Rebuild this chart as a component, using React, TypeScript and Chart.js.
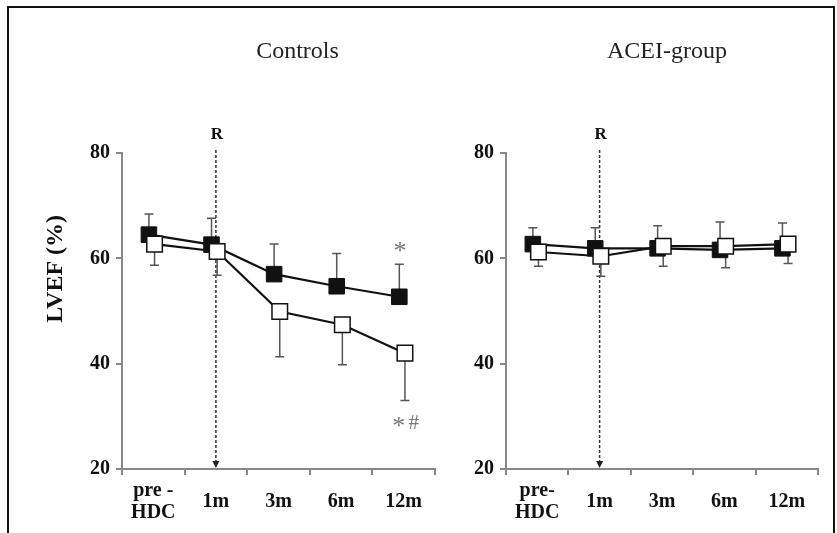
import React, { useEffect, useRef } from 'react';
import { Chart, registerables } from 'chart.js';

Chart.register(...registerables);

// ---- data ----
const controlsLabels: (string | string[])[] = [['pre -', 'HDC'], '1m', '3m', '6m', '12m'];
const aceiLabels: (string | string[])[] = [['pre-', 'HDC'], '1m', '3m', '6m', '12m'];
const yMin = 20;
const yMax = 80;
const yStep = 20;

const controlsFilled = [64.5, 62.6, 57.0, 54.7, 52.7];
const controlsFilledErr = [3.9, 5.0, 5.7, 6.2, 6.2];
const controlsOpen = [62.7, 61.3, 49.9, 47.4, 42.0];
const controlsOpenErr = [4.0, 4.5, 8.6, 7.6, 9.0];

const aceiFilled = [62.7, 61.9, 61.9, 61.6, 61.9];
const aceiFilledErr = [3.1, 3.9, 4.3, 5.3, 4.8];
const aceiOpen = [61.2, 60.4, 62.3, 62.3, 62.7];
const aceiOpenErr = [2.7, 3.8, 3.8, 4.1, 3.7];

const controlsMarks = [
  { text: '*', x: 3.94, y: 62.1 },
  { text: '*', x: 3.92, y: 28.9 },
  { text: '#', x: 4.16, y: 28.9 },
];

const FILLED_SHIFT = -0.07;
const OPEN_SHIFT = 0.02;
const RANDOMIZATION_INDEX = 1;

const SERIF = '"Liberation Serif", "Times New Roman", serif';

const decoPlugin = {
  id: 'panelDeco',
  beforeDatasetsDraw(chart: any, _args: any, opts: any) {
    const ctx = chart.ctx;
    const xs = chart.scales.x;
    const ys = chart.scales.y;
    const area = chart.chartArea;
    // dashed randomization line
    const rx = xs.getPixelForValue(RANDOMIZATION_INDEX);
    ctx.save();
    ctx.strokeStyle = '#333';
    ctx.lineWidth = 1.5;
    ctx.setLineDash([3, 2]);
    ctx.beginPath();
    ctx.moveTo(rx, area.top - 3);
    ctx.lineTo(rx, area.bottom - 6);
    ctx.stroke();
    ctx.setLineDash([]);
    ctx.fillStyle = '#222';
    ctx.beginPath();
    ctx.moveTo(rx - 3.5, area.bottom - 8);
    ctx.lineTo(rx + 3.5, area.bottom - 8);
    ctx.lineTo(rx, area.bottom - 1);
    ctx.closePath();
    ctx.fill();
    // error bars
    ctx.strokeStyle = '#555';
    ctx.lineWidth = 1.5;
    (opts.errors || []).forEach((e: any) => {
      const meta = chart.getDatasetMeta(e.datasetIndex);
      const vals = chart.data.datasets[e.datasetIndex].data;
      meta.data.forEach((pt: any, j: number) => {
        const v = vals[j].y;
        const y0 = ys.getPixelForValue(v);
        const y1 = ys.getPixelForValue(v + e.dir * e.err[j]);
        ctx.beginPath();
        ctx.moveTo(pt.x, y0);
        ctx.lineTo(pt.x, y1);
        ctx.moveTo(pt.x - 4.5, y1);
        ctx.lineTo(pt.x + 4.5, y1);
        ctx.stroke();
      });
    });
    ctx.restore();
  },
  afterDraw(chart: any, _args: any, opts: any) {
    const ctx = chart.ctx;
    const xs = chart.scales.x;
    const xl = chart.scales.xl;
    const ys = chart.scales.y;
    const area = chart.chartArea;
    ctx.save();
    // panel title
    ctx.fillStyle = '#222';
    ctx.font = `24px ${SERIF}`;
    ctx.textAlign = 'center';
    ctx.textBaseline = 'alphabetic';
    ctx.fillText(opts.title, (area.left + area.right) / 2 + opts.titleDx, 58);
    // R
    ctx.font = `bold 17px ${SERIF}`;
    ctx.fillStyle = '#111';
    ctx.textBaseline = 'middle';
    ctx.fillText('R', xs.getPixelForValue(RANDOMIZATION_INDEX) + 1, area.top - 18);
    // y label
    if (opts.yLabel) {
      ctx.save();
      ctx.translate(area.left - 66, ys.getPixelForValue(58));
      ctx.rotate(-Math.PI / 2);
      ctx.font = `bold 24px ${SERIF}`;
      ctx.textAlign = 'center';
      ctx.textBaseline = 'middle';
      ctx.fillText(opts.yLabel, 0, 0);
      ctx.restore();
    }
    // significance marks
    (opts.marks || []).forEach((m: any) => {
      const px = xl.getPixelForValue(m.x);
      const py = ys.getPixelForValue(m.y);
      ctx.fillStyle = '#777';
      ctx.font = m.text === '*' ? `26px ${SERIF}` : `21px ${SERIF}`;
      ctx.textAlign = 'center';
      ctx.textBaseline = 'alphabetic';
      const mt = ctx.measureText(m.text);
      const off = (mt.actualBoundingBoxAscent - mt.actualBoundingBoxDescent) / 2;
      ctx.fillText(m.text, px, py + off);
    });
    ctx.restore();
  },
};

function makeConfig(
  labels: (string | string[])[],
  filled: number[],
  filledErr: number[],
  open: number[],
  openErr: number[],
  deco: any,
  yWidth: number,
  padRight: number
): any {
  const tickFont = { family: SERIF, size: 20, weight: 'bold' as const, lineHeight: 1.1 };
  return {
    type: 'line',
    data: {
      labels,
      datasets: [
        {
          label: 'open',
          xAxisID: 'xl',
          data: open.map((v, i) => ({ x: i + OPEN_SHIFT, y: v })),
          borderColor: '#111',
          borderWidth: 2.2,
          tension: 0,
          pointStyle: 'rect',
          pointRadius: 11,
          pointBackgroundColor: '#fff',
          pointBorderColor: '#111',
          pointBorderWidth: 1.5,
          fill: false,
        },
        {
          label: 'filled',
          xAxisID: 'xl',
          data: filled.map((v, i) => ({ x: i + FILLED_SHIFT, y: v })),
          borderColor: '#111',
          borderWidth: 2.2,
          tension: 0,
          pointStyle: 'rect',
          pointRadius: 11,
          pointBackgroundColor: '#111',
          pointBorderColor: '#111',
          pointBorderWidth: 1,
          fill: false,
        },
      ],
    },
    options: {
      animation: false,
      responsive: false,
      devicePixelRatio: 1,
      events: [],
      layout: { padding: { left: 0, right: padRight, top: 153, bottom: 0 } },
      plugins: {
        legend: { display: false },
        tooltip: { enabled: false },
        title: { display: false },
        panelDeco: {
          ...deco,
          errors: [
            { datasetIndex: 0, err: openErr, dir: -1 },
            { datasetIndex: 1, err: filledErr, dir: 1 },
          ],
        },
      },
      scales: {
        x: {
          type: 'category',
          labels,
          offset: true,
          position: 'bottom',
          grid: { offset: true, drawOnChartArea: false, tickLength: 6, color: '#888', lineWidth: 2 },
          border: { color: '#888', width: 2 },
          ticks: { font: tickFont, color: '#111', padding: 16, crossAlign: 'center', maxRotation: 0, autoSkip: false },
          afterFit: (s: any) => {
            s.height = 64;
          },
        },
        xl: { type: 'linear', display: false, min: -0.5, max: 4.5 },
        y: {
          type: 'linear',
          min: yMin,
          max: yMax,
          ticks: { stepSize: yStep, font: { family: SERIF, size: 20, weight: 'bold' }, color: '#111', padding: 6 },
          grid: { drawOnChartArea: false, tickLength: 6, color: '#888', lineWidth: 2 },
          border: { color: '#888', width: 2 },
          afterFit: (s: any) => {
            s.width = yWidth;
          },
        },
      },
    },
    plugins: [decoPlugin],
  };
}

function Panel(props: { left: number; width: number; config: any }) {
  const ref = useRef<HTMLCanvasElement>(null);
  useEffect(() => {
    const chart = new Chart(ref.current as HTMLCanvasElement, props.config);
    return () => chart.destroy();
  }, []);
  return (
    <canvas
      ref={ref}
      width={props.width}
      height={533}
      style={{ position: 'absolute', left: props.left, top: 0, width: props.width, height: 533 }}
    />
  );
}

export default function App() {
  const leftCfg = makeConfig(
    controlsLabels,
    controlsFilled,
    controlsFilledErr,
    controlsOpen,
    controlsOpenErr,
    { title: 'Controls', titleDx: 19, yLabel: 'LVEF (%)', marks: controlsMarks },
    122,
    15
  );
  const rightCfg = makeConfig(
    aceiLabels,
    aceiFilled,
    aceiFilledErr,
    aceiOpen,
    aceiOpenErr,
    { title: 'ACEI-group', titleDx: 5, yLabel: null, marks: [] },
    56,
    19
  );
  return (
    <div style={{ position: 'fixed', left: 0, top: 0, width: 837, height: 533, overflow: 'hidden', background: '#fff' }}>
      <div
        style={{
          position: 'absolute',
          left: 7,
          top: 6,
          width: 828,
          height: 600,
          border: '2px solid #111',
          boxSizing: 'border-box',
        }}
      />
      <Panel left={0} width={450} config={leftCfg} />
      <Panel left={450} width={387} config={rightCfg} />
    </div>
  );
}
